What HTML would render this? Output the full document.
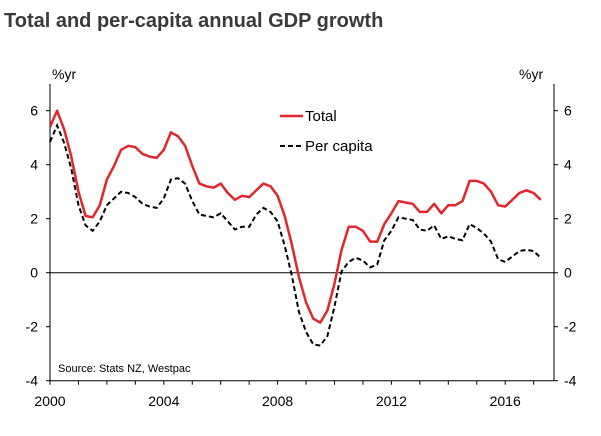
<!DOCTYPE html>
<html><head><meta charset="utf-8"><style>
body{margin:0;background:#fff;}
svg text{font-family:"Liberation Sans",Arial,sans-serif;}
</style></head><body>
<svg id="c" width="601" height="431" xmlns="http://www.w3.org/2000/svg">
<text x="4" y="27" font-size="20" font-weight="bold" fill="#3a3a3a">Total and per-capita annual GDP growth</text>
<text x="52" y="79" font-size="14" fill="#000">%yr</text>
<text x="519" y="79" font-size="14" fill="#000">%yr</text>
<g id="axes"></g>
<g id="series"></g>
<g>
<line x1="280" y1="116" x2="303" y2="116" stroke="#e3262b" stroke-width="2.5"/>
<text x="305" y="121" font-size="15">Total</text>
<line x1="280" y1="146" x2="303" y2="146" stroke="#000" stroke-width="2" stroke-dasharray="5,3"/>
<text x="305" y="151" font-size="15">Per capita</text>
</g>
<text x="58" y="372" font-size="11">Source: Stats NZ, Westpac</text>
</svg>
<script>
const startYear = 2000;
const yTicks = [-4,-2,0,2,4,6];
const xTickLabels = [2000,2004,2008,2012,2016];
const total = [5.4,6.0,5.3,4.3,3.0,2.1,2.05,2.5,3.45,3.95,4.55,4.7,4.65,4.4,4.3,4.25,4.55,5.2,5.05,4.7,3.95,3.3,3.2,3.15,3.3,2.95,2.7,2.85,2.8,3.05,3.3,3.2,2.85,2.1,1.05,-0.15,-1.1,-1.7,-1.85,-1.4,-0.4,0.85,1.7,1.7,1.55,1.15,1.15,1.8,2.2,2.65,2.6,2.55,2.25,2.25,2.55,2.2,2.5,2.5,2.65,3.4,3.4,3.3,3.0,2.5,2.45,2.7,2.95,3.05,2.95,2.7];
const perCapita = [4.85,5.45,4.8,3.85,2.5,1.75,1.55,1.9,2.5,2.75,3.0,2.95,2.8,2.55,2.45,2.4,2.75,3.45,3.5,3.3,2.65,2.15,2.1,2.05,2.2,1.9,1.6,1.7,1.7,2.15,2.4,2.25,1.9,1.0,-0.1,-1.45,-2.2,-2.65,-2.7,-2.35,-1.25,0.05,0.4,0.55,0.45,0.2,0.3,1.2,1.55,2.05,2.0,1.95,1.6,1.55,1.75,1.25,1.35,1.25,1.2,1.8,1.65,1.45,1.15,0.5,0.4,0.6,0.8,0.85,0.8,0.55];

const L=50,R=554,T=83.7,B=380.7;
const xs = yr => L + (yr-2000)*28.45;
const ys = v => 272.7 - v*27;
const NS="http://www.w3.org/2000/svg";
function mk(tag,attrs,parent){const e=document.createElementNS(NS,tag);for(const k in attrs)e.setAttribute(k,attrs[k]);parent.appendChild(e);return e;}
const ax=document.getElementById('axes');
let e;
e=mk('line',{x1:L,y1:T,x2:L,y2:B,stroke:'#000','stroke-width':1},ax);


e=mk('line',{x1:R,y1:T,x2:R,y2:B,stroke:'#000','stroke-width':1},ax);


e=mk('line',{x1:L,y1:ys(0),x2:R,y2:ys(0),stroke:'#000','stroke-width':1},ax);


e=mk('line',{x1:L,y1:B,x2:R,y2:B,stroke:'#000','stroke-width':1},ax);


yTicks.forEach(v=>{
  const y=ys(v);
  mk('line',{x1:L,y1:y,x2:L-4,y2:y,stroke:'#000'},ax);
  mk('line',{x1:R,y1:y,x2:R+4,y2:y,stroke:'#000'},ax);
  let t=mk('text',{x:38,y:y+5,'font-size':14,'text-anchor':'end'},ax);t.textContent=v;
  
  
  t=mk('text',{x:564,y:y+5,'font-size':14},ax);t.textContent=v;
  
  
});
for(let yr=2000;yr<=2017;yr++){mk('line',{x1:xs(yr),y1:B,x2:xs(yr),y2:B+4,stroke:'#000'},ax);}
xTickLabels.forEach(yr=>{
  const t=mk('text',{x:xs(yr),y:406,'font-size':14,'text-anchor':'middle'},ax);t.textContent=yr;
  
  
});
const sg=document.getElementById('series');
function path(arr){return arr.map((v,i)=>(i?'L':'M')+xs(startYear+i/4).toFixed(1)+','+ys(v).toFixed(1)).join(' ');}
e=mk('path',{d:path(perCapita),fill:'none',stroke:'#000','stroke-width':2,'stroke-dasharray':'5,3'},sg);


e=mk('path',{d:path(total),fill:'none',stroke:'#e3262b','stroke-width':2.5,'stroke-linejoin':'round'},sg);


</script>
</body></html>
